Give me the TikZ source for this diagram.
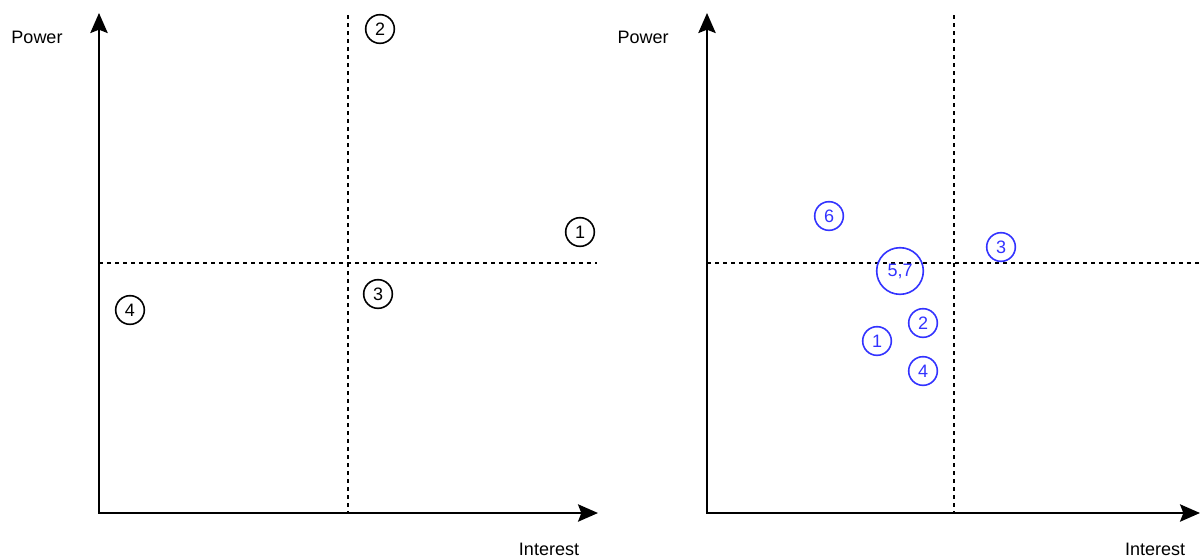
\documentclass[tikz,border=0pt]{standalone}
\usepackage{fontspec}
\setmainfont{Liberation Sans}
\usetikzlibrary{arrows.meta}
\definecolor{markblue}{RGB}{51,51,255}
\begin{document}
\begin{tikzpicture}[x=0.75pt,y=-0.75pt,
  axis/.style={line width=1.6pt,{Stealth[length=15pt,width=13pt,inset=2.5pt]}-{Stealth[length=15pt,width=13pt,inset=2.5pt]}},
  grid/.style={line width=0.8pt,dash pattern=on 3pt off 3pt},
  lbl/.style={font=\fontsize{13.5}{16}\selectfont},
  dot/.style={circle,draw,line width=1.2pt,inner sep=0pt,minimum size=21.5pt,font=\fontsize{13.5}{16}\selectfont},
  bluedot/.style={dot,draw=markblue,text=markblue},
]
\useasboundingbox (0,0) rectangle (1201,558);

% ---- left chart ----
\coordinate (ya) at (99,13);
\coordinate (xa) at (598,513);
\coordinate (vtA) at (348,15);
\coordinate (vbA) at (348,513);
\coordinate (hlA) at (99,263);
\coordinate (hrA) at (597,263);
\draw[grid] (vtA) -- (vbA);
\draw[grid] (hlA) -- (hrA);
\draw[axis] (ya) |- (xa);
\node[lbl] (powA) at (37,37) {Power};
\node[lbl] (intA) at (549,549) {Interest};
\node[dot] (a1) at (580,232) {1};
\node[dot] (a2) at (380,29) {2};
\node[dot] (a3) at (378,294) {3};
\node[dot] (a4) at (130,310) {4};

% ---- right chart ----
\coordinate (yb) at (707,13);
\coordinate (xb) at (1200,513);
\coordinate (vtB) at (954,15);
\coordinate (vbB) at (954,513);
\coordinate (hlB) at (707,263);
\coordinate (hrB) at (1201,263);
\draw[grid] (vtB) -- (vbB);
\draw[grid] (hlB) -- (hrB);
\draw[axis] (yb) |- (xb);
\node[lbl] (powB) at (643,37) {Power};
\node[lbl] (intB) at (1155,549) {Interest};
\node[bluedot] (b1) at (877,341) {1};
\node[bluedot] (b2) at (923,323) {2};
\node[bluedot] (b3) at (1001,247) {3};
\node[bluedot] (b4) at (923,371) {4};
\node[bluedot,minimum size=35pt] (b57) at (900,271) {5,7};
\node[bluedot] (b6) at (829,216) {6};
\end{tikzpicture}
\end{document}
